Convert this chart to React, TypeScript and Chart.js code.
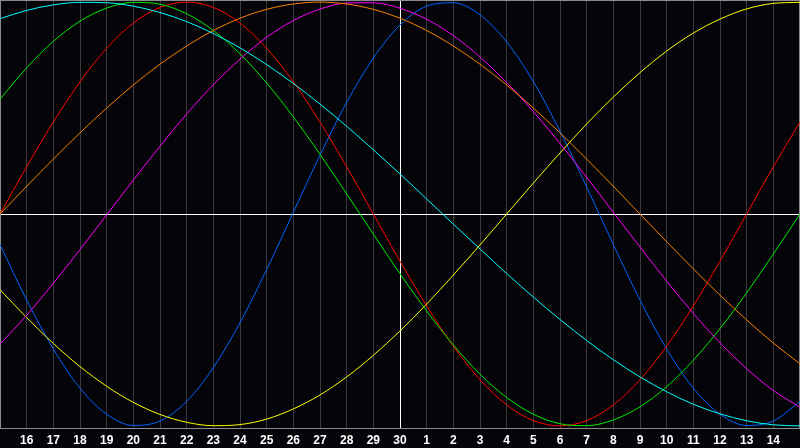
import React, { useEffect, useRef } from "react";
import { Chart, registerables } from "chart.js";

Chart.register(...registerables);

const dayLabels = ["15","16","17","18","19","20","21","22","23","24","25","26","27","28","29","30","1","2","3","4","5","6","7","8","9","10","11","12","13","14","15"];

const redSeries = [0,0.223,0.434,0.624,0.782,0.901,0.975,1,0.975,0.901,0.782,0.624,0.434,0.223,0,-0.223,-0.434,-0.624,-0.782,-0.901,-0.975,-1,-0.975,-0.901,-0.782,-0.624,-0.434,-0.223,0,0.223,0.434];
const blueSeries = [-0.144,-0.406,-0.637,-0.822,-0.945,-0.998,-0.977,-0.884,-0.725,-0.513,-0.262,0.008,0.278,0.527,0.736,0.892,0.981,0.997,0.940,0.812,0.625,0.391,0.128,-0.144,-0.406,-0.637,-0.822,-0.945,-0.998,-0.977,-0.884];
const greenSeries = [0.541,0.690,0.815,0.910,0.972,0.999,0.990,0.945,0.866,0.756,0.618,0.458,0.282,0.095,-0.095,-0.282,-0.458,-0.618,-0.756,-0.866,-0.945,-0.990,-0.999,-0.972,-0.910,-0.815,-0.690,-0.541,-0.372,-0.189,0];
const cyanSeries = [0.922,0.961,0.987,0.999,0.997,0.981,0.951,0.908,0.852,0.784,0.705,0.616,0.519,0.414,0.303,0.189,0.071,-0.048,-0.165,-0.281,-0.392,-0.498,-0.597,-0.688,-0.769,-0.839,-0.898,-0.943,-0.976,-0.995,-1];
const orangeSeries = [0,0.131,0.259,0.383,0.5,0.609,0.707,0.793,0.866,0.924,0.966,0.991,1,0.991,0.966,0.924,0.866,0.793,0.707,0.609,0.5,0.383,0.259,0.131,0,-0.131,-0.259,-0.383,-0.5,-0.609,-0.707];
const magentaSeries = [-0.614,-0.478,-0.327,-0.168,-0.004,0.160,0.320,0.472,0.610,0.731,0.834,0.913,0.967,0.996,0.997,0.971,0.919,0.842,0.741,0.621,0.483,0.333,0.173,0.008,-0.156,-0.317,-0.469,-0.608,-0.730,-0.833,-0.912];
const yellowSeries = [-0.357,-0.489,-0.611,-0.720,-0.813,-0.889,-0.946,-0.983,-0.999,-0.994,-0.968,-0.920,-0.854,-0.769,-0.667,-0.552,-0.425,-0.288,-0.146,0,0.146,0.288,0.425,0.552,0.667,0.769,0.854,0.920,0.968,0.994,0.999];

const seriesList = [
  { data: cyanSeries, color: "#00ffff" },
  { data: orangeSeries, color: "#ff8000" },
  { data: magentaSeries, color: "#ff00ff" },
  { data: yellowSeries, color: "#ffff00" },
  { data: greenSeries, color: "#00ee00" },
  { data: redSeries, color: "#ff0000" },
  { data: blueSeries, color: "#0066ff" },
];

const BG = "#050409";

const frame = {
  id: "frame",
  beforeDraw(chart: any) {
    const c = chart.ctx;
    c.save();
    c.fillStyle = BG;
    c.fillRect(0, 0, chart.width, chart.height);
    c.restore();
  },
  beforeDatasetsDraw(chart: any) {
    const c = chart.ctx;
    const a = chart.chartArea;
    c.save();
    c.strokeStyle = "#8c8c8c";
    c.lineWidth = 1;
    c.strokeRect(a.left + 0.5, a.top + 0.5, a.right - a.left - 1, a.bottom - a.top);
    c.restore();
  },
};

export default function App() {
  const ref = useRef<HTMLCanvasElement | null>(null);
  useEffect(() => {
    document.body.style.margin = "0";
    document.body.style.background = BG;
    const chart = new Chart(ref.current as HTMLCanvasElement, {
      type: "line",
      data: {
        labels: dayLabels,
        datasets: seriesList.map((s) => ({
          data: s.data,
          borderColor: s.color,
          borderWidth: 1,
          pointRadius: 0,
          fill: false,
          cubicInterpolationMode: "monotone" as const,
        })),
      },
      options: {
        animation: false,
        responsive: false,
        events: [],
        layout: { padding: 0, autoPadding: false },
        plugins: { legend: { display: false }, tooltip: { enabled: false } },
        scales: {
          x: {
            type: "category",
            offset: false,
            border: { display: false },
            grid: {
              drawTicks: false,
              offset: false,
              color: (ctx: any) => {
                const i = ctx.index;
                if (i === 15) return "#ffffff";
                if (i === 0 || i === dayLabels.length - 1) return "rgba(0,0,0,0)";
                return "#3a3a3e";
              },
            },
            ticks: {
              autoSkip: false,
              maxRotation: 0,
              padding: 5,
              color: "#ffffff",
              font: { family: "'Liberation Sans', Arial, sans-serif", size: 12, weight: "bold" },
              callback: (_v: any, i: number) => (i === 0 || i === dayLabels.length - 1 ? "" : dayLabels[i]),
            },
            afterFit: (s: any) => {
              s.height = 20;
              s.paddingLeft = 0;
              s.paddingRight = 0;
            },
          },
          y: {
            min: -1.01,
            max: 1.01,
            border: { display: false },
            grid: {
              drawTicks: false,
              color: (ctx: any) => (ctx.tick && ctx.tick.value === 0 ? "#ffffff" : "rgba(0,0,0,0)"),
            },
            ticks: { display: false, stepSize: 1.01 },
            afterFit: (s: any) => {
              s.width = 0;
              s.paddingTop = 0;
              s.paddingBottom = 0;
            },
          },
        },
      },
      plugins: [frame],
    });
    return () => chart.destroy();
  }, []);
  return (
    <div style={{ width: 800, height: 448, background: BG }}>
      <canvas ref={ref} width={800} height={448} style={{ display: "block" }} />
    </div>
  );
}
